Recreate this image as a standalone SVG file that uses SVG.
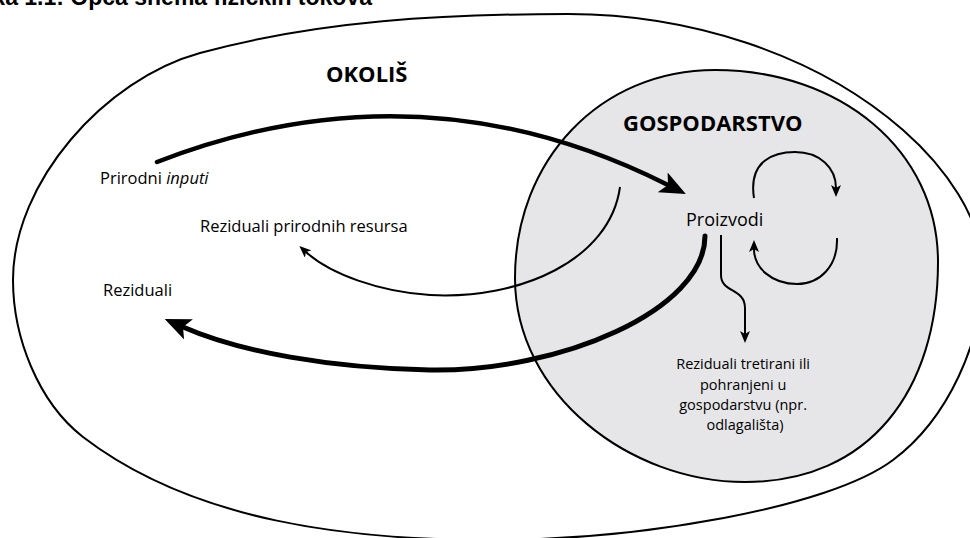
<svg xmlns="http://www.w3.org/2000/svg" width="970" height="538" viewBox="0 0 970 538">
  <style>
    .lbl { font-family: "Open Sans", "Liberation Sans", sans-serif; fill: #000; }
    .bold { font-weight: bold; }
    .shape { stroke: #000; stroke-width: 2; }
    .thick { fill: none; stroke: #000; stroke-linecap: round; }
    .thin { fill: none; stroke: #000; stroke-width: 2; }
  </style>
  <defs>
    <marker id="bigHead" markerUnits="userSpaceOnUse" viewBox="0 0 26 22" markerWidth="26" markerHeight="22" refX="6" refY="11" orient="auto">
      <path d="M0,0 L26,11 L0,22 L6,11 Z" fill="#000"/>
    </marker>
    <marker id="smallHead" markerUnits="userSpaceOnUse" viewBox="0 0 12 10" markerWidth="12" markerHeight="10" refX="3" refY="5" orient="auto">
      <path d="M0,0 L12,5 L0,10 L3,5 Z" fill="#000"/>
    </marker>
  </defs>
  <rect x="0" y="0" width="970" height="538" fill="#fff"/>

  <text x="372" y="5" text-anchor="end" font-family="'Liberation Sans', Arial, sans-serif" font-weight="bold" font-size="23" fill="#000">Slika 1.1: Opća shema fizičkih tokova</text>

  <g id="okolis">
    <path class="shape" fill="#fff" d="M 13,280 C 13,182 105,79 200,53 C 318.7,20.6 445,14 568,14 C 686,14 814,52 903,130 C 943.6,165.6 983,218 983,272 C 983,341 948,419 893,460 C 829,508 640,540 490,540 C 350,540 194,522 83,437 C 38,402 13,337 13,280 Z"/>
    <text class="lbl bold" x="326" y="82" font-size="22">OKOLIŠ</text>
  </g>

  <g id="gospodarstvo">
    <path class="shape" fill="#e6e6e8" d="M 715,70 C 840,70 938,150 938,262 C 938,390 870,482 745,482 C 630,482 515,395 515,278 C 515,160 600,70 715,70 Z"/>
    <text class="lbl bold" x="623" y="131" font-size="22">GOSPODARSTVO</text>
  </g>

  <g id="prirodni-inputi">
    <text class="lbl" x="100" y="184" font-size="16.5">Prirodni <tspan font-style="italic">inputi</tspan></text>
  </g>

  <g id="reziduali-prirodnih-resursa">
    <text class="lbl" x="200" y="232" font-size="16.5">Reziduali prirodnih resursa</text>
  </g>

  <g id="reziduali">
    <text class="lbl" x="103" y="296" font-size="16.5">Reziduali</text>
  </g>

  <g id="proizvodi">
    <text class="lbl" x="686" y="226" font-size="18">Proizvodi</text>
  </g>

  <g id="reziduali-tretirani">
    <text class="lbl" font-size="14.5" text-anchor="middle" fill="#2e2a2c">
      <tspan x="745" y="369">Reziduali tretirani ili</tspan>
      <tspan x="745" y="390">pohranjeni u</tspan>
      <tspan x="745" y="410">gospodarstvu (npr.</tspan>
      <tspan x="745" y="430">odlagališta)</tspan>
    </text>
  </g>

  <g id="connectors">
    <path class="thick" stroke-width="4.5" d="M 157,162 Q 420,60 668,185" marker-end="url(#bigHead)"/>
    <path class="thick" stroke-width="5" d="M 705,236 C 705,310 560,372 430,370 C 330,368 240,352 183,327" marker-end="url(#bigHead)"/>
    <path class="thin" d="M 620,187 C 610,260 520,300 430,295 C 380,292 330,274 306,252" marker-end="url(#smallHead)"/>
    <path class="thin" d="M 721,235 L 721,275 C 721,293 745,288 745,308 L 745,334" marker-end="url(#smallHead)"/>
    <path class="thin" d="M 754,198 C 748,160 775,152 795,152 C 820,152 836,168 836,188" marker-end="url(#smallHead)"/>
    <path class="thin" d="M 837,238 C 838,266 820,284 797,284 C 772,284 754,268 754,249" marker-end="url(#smallHead)"/>
  </g>
</svg>
